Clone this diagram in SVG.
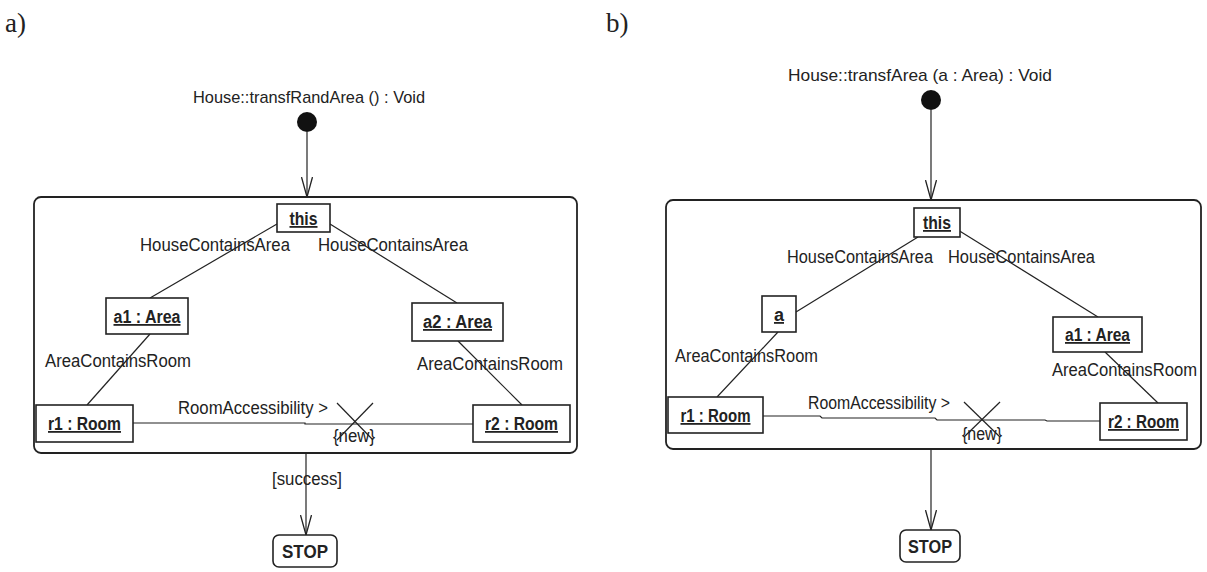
<svg xmlns="http://www.w3.org/2000/svg" width="1207" height="572" viewBox="0 0 1207 572">
<defs>
<style>
.lbl{font-family:"Liberation Sans",Arial,sans-serif;font-size:17.5px;fill:#222}
.obj{font-family:"Liberation Sans",Arial,sans-serif;font-size:18px;font-weight:bold;fill:#222;text-anchor:middle;text-decoration:underline}
.ttl{font-family:"Liberation Sans",Arial,sans-serif;font-size:17px;fill:#222;text-anchor:middle}
.pan{font-family:"Liberation Serif","Times New Roman",serif;font-size:27px;fill:#222}
.box{fill:#fff;stroke:#222;stroke-width:1.6}
.frame{fill:none;stroke:#222;stroke-width:1.8}
.ln{fill:none;stroke:#222;stroke-width:1.2}
.start{fill:#111}
</style>
<marker id="vh" viewBox="0 0 20 12" refX="20" refY="6" markerWidth="20" markerHeight="12" markerUnits="userSpaceOnUse" orient="auto">
<path d="M0,0.5 L20,6 L0,11.5" fill="none" stroke="#222" stroke-width="1.3"/>
</marker>
</defs>
<rect width="1207" height="572" fill="#fff"/>

<text class="pan" x="5" y="32">a)</text>
<text class="pan" x="606" y="32">b)</text>

<!-- Panel a -->
<g id="a-frame"><rect class="frame" x="34" y="197" width="543" height="256" rx="7"/></g>
<g id="a-title"><text class="ttl" x="309" y="103" textLength="232" lengthAdjust="spacingAndGlyphs">House::transfRandArea () : Void</text></g>
<g id="a-start"><circle class="start" cx="307" cy="122" r="10"/></g>
<g id="a-connectors">
<line class="ln" x1="307" y1="132" x2="307" y2="197" marker-end="url(#vh)"/>
<line class="ln" x1="277" y1="224" x2="150" y2="298"/>
<line class="ln" x1="330" y1="224" x2="457" y2="303"/>
<line class="ln" x1="150" y1="334" x2="87" y2="405"/>
<line class="ln" x1="458" y1="341" x2="522" y2="405"/>
<polyline class="ln" points="133,423 305,423 305,424 473,424"/>
<line class="ln" x1="337" y1="403" x2="373" y2="440"/>
<line class="ln" x1="373" y1="403" x2="337" y2="440"/>
<line class="ln" x1="306" y1="453" x2="306" y2="535" marker-end="url(#vh)"/>
<text class="lbl" x="140" y="251" textLength="150" lengthAdjust="spacingAndGlyphs">HouseContainsArea</text>
<text class="lbl" x="318" y="251" textLength="150" lengthAdjust="spacingAndGlyphs">HouseContainsArea</text>
<text class="lbl" x="45" y="367" textLength="146" lengthAdjust="spacingAndGlyphs">AreaContainsRoom</text>
<text class="lbl" x="417" y="370" textLength="146" lengthAdjust="spacingAndGlyphs">AreaContainsRoom</text>
<text class="lbl" x="178" y="414" textLength="150" lengthAdjust="spacingAndGlyphs">RoomAccessibility &gt;</text>
<text class="lbl" x="354" y="442" text-anchor="middle" textLength="42" lengthAdjust="spacingAndGlyphs">{new}</text>
<text class="lbl" x="272" y="485" textLength="70" lengthAdjust="spacingAndGlyphs">[success]</text>
</g>
<g id="a-this"><rect class="box" x="277" y="204" width="53" height="28"/><text class="obj" x="303.5" y="225" textLength="28" lengthAdjust="spacingAndGlyphs">this</text></g>
<g id="a-a1"><rect class="box" x="106" y="298" width="82" height="36"/><text class="obj" x="147" y="323" textLength="67" lengthAdjust="spacingAndGlyphs">a1 : Area</text></g>
<g id="a-a2"><rect class="box" x="412" y="303" width="91" height="38"/><text class="obj" x="457.5" y="328" textLength="69" lengthAdjust="spacingAndGlyphs">a2 : Area</text></g>
<g id="a-r1"><rect class="box" x="36" y="405" width="97" height="37"/><text class="obj" x="84.5" y="430" textLength="73" lengthAdjust="spacingAndGlyphs">r1 : Room</text></g>
<g id="a-r2"><rect class="box" x="473" y="405" width="97" height="37"/><text class="obj" x="521.5" y="430" textLength="73" lengthAdjust="spacingAndGlyphs">r2 : Room</text></g>
<g id="a-stop"><rect class="box" x="273" y="535" width="64" height="32" rx="6"/><text class="obj" x="305" y="558" style="text-decoration:none" textLength="46" lengthAdjust="spacingAndGlyphs">STOP</text></g>

<!-- Panel b -->
<g id="b-frame"><rect class="frame" x="666" y="200" width="535" height="249" rx="7"/></g>
<g id="b-title"><text class="ttl" x="920" y="81" textLength="264" lengthAdjust="spacingAndGlyphs">House::transfArea (a : Area) : Void</text></g>
<g id="b-start"><circle class="start" cx="931" cy="100" r="10"/></g>
<g id="b-connectors">
<line class="ln" x1="931" y1="110" x2="931" y2="200" marker-end="url(#vh)"/>
<line class="ln" x1="918" y1="237" x2="796" y2="312"/>
<line class="ln" x1="958" y1="230" x2="1098" y2="317"/>
<line class="ln" x1="778" y1="332" x2="717" y2="397"/>
<line class="ln" x1="1105" y1="352" x2="1158" y2="403"/>
<polyline class="ln" points="763,416 820,416 822,418 935,418 937,420 1045,420 1047,421 1100,421"/>
<line class="ln" x1="964" y1="402" x2="1000" y2="437"/>
<line class="ln" x1="1000" y1="402" x2="964" y2="437"/>
<line class="ln" x1="931" y1="449" x2="931" y2="530" marker-end="url(#vh)"/>
<text class="lbl" x="787" y="263" textLength="146" lengthAdjust="spacingAndGlyphs">HouseContainsArea</text>
<text class="lbl" x="948" y="263" textLength="147" lengthAdjust="spacingAndGlyphs">HouseContainsArea</text>
<text class="lbl" x="675" y="362" textLength="143" lengthAdjust="spacingAndGlyphs">AreaContainsRoom</text>
<text class="lbl" x="1052" y="376" textLength="145" lengthAdjust="spacingAndGlyphs">AreaContainsRoom</text>
<text class="lbl" x="808" y="409" textLength="142" lengthAdjust="spacingAndGlyphs">RoomAccessibility &gt;</text>
<text class="lbl" x="982" y="440" text-anchor="middle" textLength="40" lengthAdjust="spacingAndGlyphs">{new}</text>
</g>
<g id="b-this"><rect class="box" x="914" y="208" width="46" height="29"/><text class="obj" x="937" y="229" textLength="28" lengthAdjust="spacingAndGlyphs">this</text></g>
<g id="b-a"><rect class="box" x="762" y="296" width="34" height="36"/><text class="obj" x="779" y="321">a</text></g>
<g id="b-a1"><rect class="box" x="1053" y="317" width="89" height="35"/><text class="obj" x="1097.5" y="341" textLength="65" lengthAdjust="spacingAndGlyphs">a1 : Area</text></g>
<g id="b-r1"><rect class="box" x="668" y="397" width="95" height="36"/><text class="obj" x="715.5" y="422" textLength="70" lengthAdjust="spacingAndGlyphs">r1 : Room</text></g>
<g id="b-r2"><rect class="box" x="1100" y="403" width="87" height="37"/><text class="obj" x="1143.5" y="428" textLength="71" lengthAdjust="spacingAndGlyphs">r2 : Room</text></g>
<g id="b-stop"><rect class="box" x="900" y="530" width="60" height="32" rx="6"/><text class="obj" x="930" y="553" style="text-decoration:none" textLength="44" lengthAdjust="spacingAndGlyphs">STOP</text></g>
</svg>
